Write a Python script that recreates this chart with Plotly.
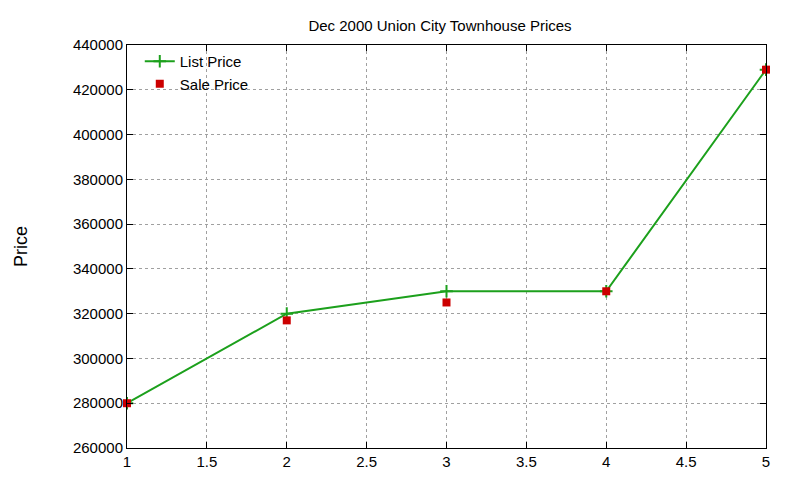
import plotly.graph_objects as go

x = [1, 2, 3, 4, 5]
list_price = [280000, 320000, 330000, 330000, 429000]
sale_price = [280000, 317000, 325000, 330000, 429000]

fig = go.Figure()
fig.add_trace(go.Scatter(
    x=x, y=list_price, name='List Price', mode='lines+markers',
    line=dict(color='#1ca01c', width=2),
    marker=dict(symbol='cross-thin', size=9, line=dict(color='#1ca01c', width=2))
))
fig.add_trace(go.Scatter(
    x=x, y=sale_price, name='Sale Price', mode='markers',
    marker=dict(symbol='square', size=8, color='#cc0000'),
    cliponaxis=False
))

axis_style = dict(
    showgrid=True, gridcolor='#a0a0a0', griddash='dot', gridwidth=1,
    showline=True, linecolor='black', mirror='allticks', ticks='inside',
    ticklen=6, tickcolor='black', zeroline=False,
    tickfont=dict(family='Liberation Sans', size=15, color='black')
)

fig.update_layout(
    width=800, height=480,
    paper_bgcolor='white', plot_bgcolor='white',
    margin=dict(l=111, r=42, t=37, b=40),
    title=dict(text='Dec 2000 Union City Townhouse Prices', x=0.54, y=0.975,
               font=dict(family='Liberation Sans', size=15, color='black')),
    font=dict(family='Liberation Sans', size=15, color='black'),
    legend=dict(x=0.02, y=1.0, bgcolor='rgba(0,0,0,0)', tracegroupgap=0,
                font=dict(size=15)),
    showlegend=True
)
fig.update_xaxes(range=[1, 5], dtick=0.5, **axis_style)
fig.update_yaxes(range=[260000, 440000], dtick=20000, tickformat='d',
                 title=dict(text='Price', standoff=40), **axis_style)

fig.write_html('out.html')
